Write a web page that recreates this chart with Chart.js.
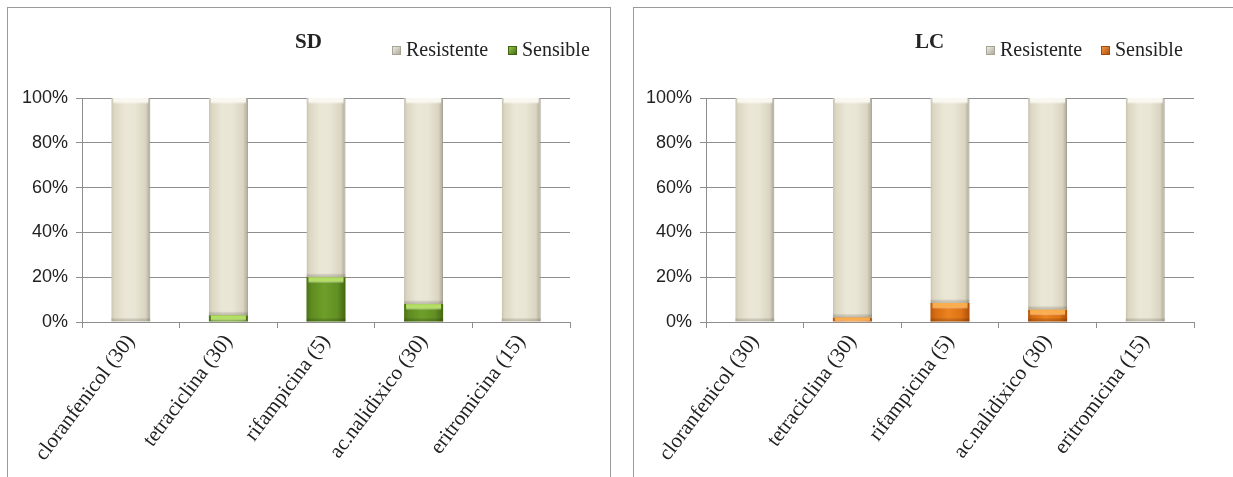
<!DOCTYPE html>
<html>
<head>
<meta charset="utf-8">
<title>Sensibilidad antibiótica</title>
<script src="https://cdn.jsdelivr.net/npm/chart.js@4/dist/chart.umd.min.js"></script>
<style>
  html, body { margin: 0; padding: 0; background: #fff; overflow: hidden; }
  .panel { position: absolute; top: 7px; border: 1px solid #9a9a9a; background: #fff; }
  #panelSD { left: 7px; width: 602px; height: 480px; }
  #panelLC { left: 633px; width: 612px; height: 480px; }
  canvas { display: block; }
</style>
</head>
<body>
<div class="panel" id="panelSD"><canvas id="chartSD" width="602" height="480"></canvas></div>
<div class="panel" id="panelLC"><canvas id="chartLC" width="612" height="480"></canvas></div>

<script>
(function () {
  "use strict";

  /* ---------- Datos ---------- */
  const antibioticos = ["cloranfenicol (30)", "tetraciclina (30)", "rifampicina (5)", "ac.nalidixico (30)", "eritromicina (15)"];

  const sensibleSD   = [0, 3, 20, 8, 0];
  const resistenteSD = [100, 97, 80, 92, 100];

  const sensibleLC   = [0, 2, 8.5, 5.5, 0];
  const resistenteLC = [100, 98, 91.5, 94.5, 100];

  const yTicks = [0, 20, 40, 60, 80, 100];

  /* ---------- Estilo ---------- */
  const SERIF = "'Liberation Serif', 'Times New Roman', serif";
  const SANS  = "'Liberation Sans', Arial, sans-serif";
  const GRID  = "#8e8e8e";
  const TEXT  = "#222";
  const BAR_PCT = 0.4;

  const BEIGE  = [[0, "#c9c4b0"], [0.08, "#dcd7c3"], [0.35, "#ebe7d7"], [0.6, "#eae6d5"], [0.88, "#dad5c1"], [1, "#a9a595"]];
  const GREEN  = [[0, "#4a7214"], [0.12, "#5e8b20"], [0.45, "#6f9f2a"], [0.8, "#618f23"], [1, "#44670e"]];
  const ORANGE = [[0, "#b9560b"], [0.12, "#d66b12"], [0.45, "#ec8220"], [0.8, "#dd7215"], [1, "#ad4d08"]];

  // gradiente horizontal a lo ancho de cada barra
  function barGradient(stops) {
    return function (ctx) {
      const chart = ctx.chart;
      const x = chart.scales.x;
      const flat = stops[2][1];
      if (!x || ctx.dataIndex === undefined) return flat;
      const cx = x.getPixelForValue(ctx.dataIndex);
      const half = (x.width / antibioticos.length) * BAR_PCT / 2;
      if (!isFinite(cx) || !isFinite(half) || half <= 0) return flat;
      const g = chart.ctx.createLinearGradient(cx - half, 0, cx + half, 0);
      stops.forEach(([p, c]) => g.addColorStop(p, c));
      return g;
    };
  }

  /* brillo superior (bisel) de cada barra */
  const bevel = {
    id: "bevel",
    afterDatasetsDraw(chart) {
      const ctx = chart.ctx;
      ctx.save();
      chart.data.datasets.forEach((ds, i) => {
        const meta = chart.getDatasetMeta(i);
        meta.data.forEach(bar => {
          const p = bar.getProps(["x", "y", "base", "width"], true);
          const h = p.base - p.y;
          if (!(h >= 1)) return;
          const s = Math.min(6, h);
          const left = p.x - p.width / 2;
          let g = ctx.createLinearGradient(0, p.y, 0, p.y + s);
          g.addColorStop(0, ds.highlight);
          g.addColorStop(0.6, ds.highlight);
          g.addColorStop(1, "rgba(255,255,255,0)");
          ctx.fillStyle = g;
          ctx.fillRect(left + 2, p.y, p.width - 4, s);
          if (h > 8) {
            g = ctx.createLinearGradient(0, p.base - 4, 0, p.base);
            g.addColorStop(0, "rgba(0,0,0,0)");
            g.addColorStop(1, ds.shade);
            ctx.fillStyle = g;
            ctx.fillRect(left, p.base - 4, p.width, 4);
          }
        });
      });
      ctx.restore();
    },
  };

  /* título y leyenda en una misma línea */
  const header = {
    id: "header",
    afterDraw(chart, args, o) {
      const ctx = chart.ctx;
      ctx.save();
      ctx.fillStyle = TEXT;
      ctx.textBaseline = "alphabetic";
      ctx.font = "bold 21px " + SERIF;
      ctx.fillText(o.title, o.titleX, 40);
      ctx.font = "20px " + SERIF;
      o.items.forEach(it => {
        const g = ctx.createLinearGradient(it.x, 38, it.x + 9, 47);
        g.addColorStop(0, it.light);
        g.addColorStop(1, it.dark);
        ctx.fillStyle = g;
        ctx.fillRect(it.x, 38, 9, 9);
        ctx.strokeStyle = it.dark;
        ctx.lineWidth = 1;
        ctx.strokeRect(it.x + 0.5, 38.5, 8, 8);
        ctx.fillStyle = TEXT;
        ctx.fillText(it.label, it.x + 14, 48);
      });
      ctx.restore();
    },
  };

  function makeChart(id, sens, resist, fill, highlight, shade, head, yWidth, padRight) {
    return new Chart(document.getElementById(id), {
      type: "bar",
      data: {
        labels: antibioticos,
        datasets: [
          {
            label: "Sensible",
            data: sens,
            backgroundColor: barGradient(fill),
            borderWidth: 0,
            highlight: highlight,
            shade: shade,
            barPercentage: BAR_PCT,
            categoryPercentage: 1,
          },
          {
            label: "Resistente",
            data: resist,
            backgroundColor: barGradient(BEIGE),
            borderColor: "#9d998a",
            borderWidth: { left: 0, right: 1, top: 0, bottom: 0 },
            borderSkipped: false,
            highlight: "rgba(250,249,242,0.95)",
            shade: "rgba(120,116,96,0.35)",
            barPercentage: BAR_PCT,
            categoryPercentage: 1,
          },
        ],
      },
      options: {
        responsive: false,
        animation: false,
        layout: { padding: { top: 90, right: padRight, bottom: 0, left: 0 } },
        plugins: {
          legend: { display: false },
          tooltip: { enabled: false },
          header: head,
        },
        scales: {
          x: {
            stacked: true,
            grid: { drawOnChartArea: false, drawTicks: true, tickLength: 6, color: GRID, offset: true },
            border: { display: true, color: GRID, width: 1 },
            ticks: {
              color: TEXT, font: { family: SERIF, size: 21 },
              minRotation: 53, maxRotation: 53, autoSkip: false, padding: 2,
            },
            afterFit(scale) { scale.height = 480 - 314; },
          },
          y: {
            stacked: true,
            min: 0, max: 100,
            afterBuildTicks(scale) { scale.ticks = yTicks.map(v => ({ value: v })); },
            grid: { color: GRID, lineWidth: 1, drawTicks: true, tickLength: 6 },
            border: { display: true, color: GRID, width: 1 },
            ticks: {
              color: TEXT, font: { family: SANS, size: 18 }, padding: 8,
              callback: v => v + "%",
            },
            afterFit(scale) { scale.width = yWidth; },
          },
        },
      },
      plugins: [bevel, header],
    });
  }

  makeChart("chartSD", sensibleSD, resistenteSD, GREEN, "rgba(184,226,104,0.95)", "rgba(40,60,10,0.35)", {
    title: "SD", titleX: 287,
    items: [
      { label: "Resistente", x: 384, light: "#f4f2ea", dark: "#a8a494" },
      { label: "Sensible",   x: 500, light: "#9fd04c", dark: "#3f6312" },
    ],
  }, 74, 40);

  makeChart("chartLC", sensibleLC, resistenteLC, ORANGE, "rgba(252,176,80,0.95)", "rgba(90,40,0,0.35)", {
    title: "LC", titleX: 281,
    items: [
      { label: "Resistente", x: 352, light: "#f4f2ea", dark: "#a8a494" },
      { label: "Sensible",   x: 467, light: "#f6a04a", dark: "#a94a06" },
    ],
  }, 72, 52);
})();
</script>
</body>
</html>
